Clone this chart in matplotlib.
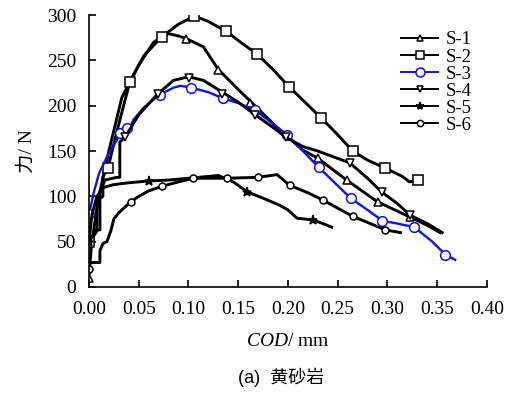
import matplotlib

matplotlib.use("Agg")
import matplotlib.pyplot as plt

# COD (mm) / force (N) traces
s1_x = [0.000, 0.002, 0.005, 0.010, 0.020, 0.033, 0.050, 0.065, 0.078, 0.090, 0.098, 0.115, 0.130,
        0.150, 0.164, 0.190, 0.215, 0.230, 0.259, 0.290, 0.323, 0.340, 0.353]
s1_y = [10, 40, 65, 100, 150, 209, 245, 270, 280, 277, 274, 265, 240,
        218, 203, 175, 151, 142, 118, 94, 77, 68, 60]
s1_mx = [0.000, 0.098, 0.130, 0.162, 0.230, 0.259, 0.290, 0.323]
s1_my = [10, 274, 240, 203, 142, 118, 94, 77]

s2_x = [0.000, 0.004, 0.008, 0.008, 0.014, 0.014, 0.019, 0.030, 0.041, 0.055, 0.073, 0.090, 0.106,
        0.120, 0.138, 0.155, 0.169, 0.185, 0.201, 0.217, 0.233, 0.250, 0.265, 0.280, 0.298,
        0.315, 0.322, 0.331]
s2_y = [50, 55, 62, 95, 100, 122, 131, 180, 226, 255, 276, 290, 299,
        293, 282, 268, 257, 240, 221, 204, 187, 168, 150, 140, 131,
        122, 116, 118]
s2_mx = [0.000, 0.019, 0.041, 0.073, 0.106, 0.138, 0.169, 0.201, 0.233, 0.265, 0.298, 0.331]
s2_my = [50, 131, 226, 276, 299, 282, 257, 221, 187, 150, 131, 118]

s3_x = [0.000, 0.005, 0.010, 0.020, 0.028, 0.031, 0.036, 0.040, 0.045, 0.055, 0.071, 0.085, 0.092,
        0.103, 0.120, 0.135, 0.150, 0.167, 0.185, 0.199, 0.215, 0.231, 0.247, 0.263, 0.280,
        0.295, 0.310, 0.327, 0.345, 0.358, 0.368]
s3_y = [80, 105, 125, 148, 162, 170, 176, 173, 185, 198, 212, 220, 222,
        220, 215, 208, 203, 195, 180, 168, 150, 132, 115, 98, 85,
        73, 70, 66, 50, 36, 30]
s3_mx = [0.000, 0.031, 0.038, 0.071, 0.103, 0.135, 0.167, 0.199, 0.231, 0.263, 0.295, 0.327, 0.358]
s3_my = [80, 170, 175, 212, 220, 208, 195, 168, 132, 98, 73, 66, 35]

s4_x = [0.000, 0.005, 0.005, 0.011, 0.011, 0.016, 0.028, 0.031, 0.031, 0.036, 0.050, 0.069, 0.085,
        0.100, 0.115, 0.134, 0.150, 0.167, 0.185, 0.198, 0.215, 0.230, 0.262, 0.280, 0.294,
        0.310, 0.323, 0.340, 0.355]
s4_y = [50, 58, 63, 63, 105, 118, 121, 121, 160, 165, 190, 213, 228,
        232, 228, 215, 204, 190, 176, 165, 155, 150, 137, 120, 105,
        92, 79, 70, 60]
s4_mx = [0.036, 0.069, 0.101, 0.134, 0.167, 0.198, 0.262, 0.294, 0.323]
s4_my = [165, 213, 231, 213, 190, 165, 137, 105, 79]

s5_x = [0.000, 0.003, 0.008, 0.015, 0.025, 0.040, 0.060, 0.080, 0.100, 0.120, 0.130, 0.145, 0.159,
        0.175, 0.192, 0.200, 0.209, 0.225, 0.235, 0.244]
s5_y = [50, 80, 100, 110, 113, 115, 117, 118, 120, 122, 123, 116, 105,
        98, 90, 85, 76, 74, 70, 66]
s5_mx = [0.000, 0.060, 0.159, 0.225]
s5_my = [50, 117, 105, 74]

s6_x = [0.000, 0.000, 0.011, 0.011, 0.014, 0.018, 0.022, 0.025, 0.030, 0.042, 0.050, 0.060, 0.073,
        0.090, 0.105, 0.139, 0.170, 0.189, 0.202, 0.220, 0.235, 0.265, 0.298, 0.313]
s6_y = [20, 27, 27, 40, 48, 50, 62, 75, 82, 94, 100, 106, 111,
        116, 120, 120, 121, 124, 112, 104, 96, 78, 63, 60]
s6_mx = [0.000, 0.042, 0.073, 0.105, 0.139, 0.170, 0.202, 0.235, 0.265, 0.298]
s6_my = [20, 94, 111, 120, 120, 121, 112, 96, 78, 63]

x_ticks = [0.00, 0.05, 0.10, 0.15, 0.20, 0.25, 0.30, 0.35, 0.40]
y_ticks = [0, 50, 100, 150, 200, 250, 300]

SERIF = ["Liberation Serif", "Noto Sans CJK SC"]
plt.rcParams["font.family"] = SERIF
plt.rcParams["mathtext.fontset"] = "custom"
plt.rcParams["mathtext.rm"] = "Liberation Serif"
plt.rcParams["mathtext.it"] = "Liberation Serif:italic"

fig = plt.figure(figsize=(5.07, 3.94), dpi=100)
ax = fig.add_axes([0.1755, 0.2716, 0.785, 0.690])

series = [
    ("S-1", s1_x, s1_y, s1_mx, s1_my, "black", "^", 5.5, "white"),
    ("S-2", s2_x, s2_y, s2_mx, s2_my, "black", "s", 6.5, "white"),
    ("S-3", s3_x, s3_y, s3_mx, s3_my, "#1010ee", "o", 7, "white"),
    ("S-4", s4_x, s4_y, s4_mx, s4_my, "black", "v", 5.5, "white"),
    ("S-5", s5_x, s5_y, s5_mx, s5_my, "black", "*", 6.5, "black"),
    ("S-6", s6_x, s6_y, s6_mx, s6_my, "black", "o", 5, "white"),
]

handles = []
for name, xs, ys, mx, my, color, marker, ms, face in series:
    lw = 1.7 if color != "black" else 2.1
    ax.plot(xs, ys, color=color, lw=lw, solid_joinstyle="round")
    ax.plot(mx, my, linestyle="none", marker=marker, ms=ms, mfc=face, mec=color, mew=1.1)
    (h,) = ax.plot([], [], color=color, lw=1.4, marker=marker, ms=ms - 0.5, mfc=face, mec=color, mew=1.1)
    handles.append((h, name))

ax.set_xlim(0, 0.40)
ax.set_ylim(0, 300)
ax.set_xticks(x_ticks)
ax.set_xticklabels([f"{t:.2f}" for t in x_ticks])
ax.set_yticks(y_ticks)
ax.spines["top"].set_visible(False)
ax.spines["right"].set_visible(False)
for sp in ("left", "bottom"):
    ax.spines[sp].set_linewidth(1.2)
ax.tick_params(direction="in", length=5, width=1.2, labelsize=14)
ax.tick_params(axis="x", pad=10)
ax.tick_params(axis="y", pad=9)

ax.set_xlabel(r"$\mathit{COD}$/ mm", fontsize=14, labelpad=11)
ax.set_ylabel("力/ N", fontsize=14, labelpad=8)

ax.legend(
    [h for h, _ in handles],
    [n for _, n in handles],
    loc="upper left",
    bbox_to_anchor=(0.76, 0.975),
    frameon=False,
    fontsize=13.5,
    handlelength=2.0,
    handletextpad=0.4,
    labelspacing=0.0,
    borderpad=0,
)

fig.text(0.555, 0.043, "(a)  黄砂岩", ha="center", va="center", fontsize=13,
         family=["Liberation Sans", "Noto Sans CJK SC"])

fig.savefig("out.png", dpi=100)
